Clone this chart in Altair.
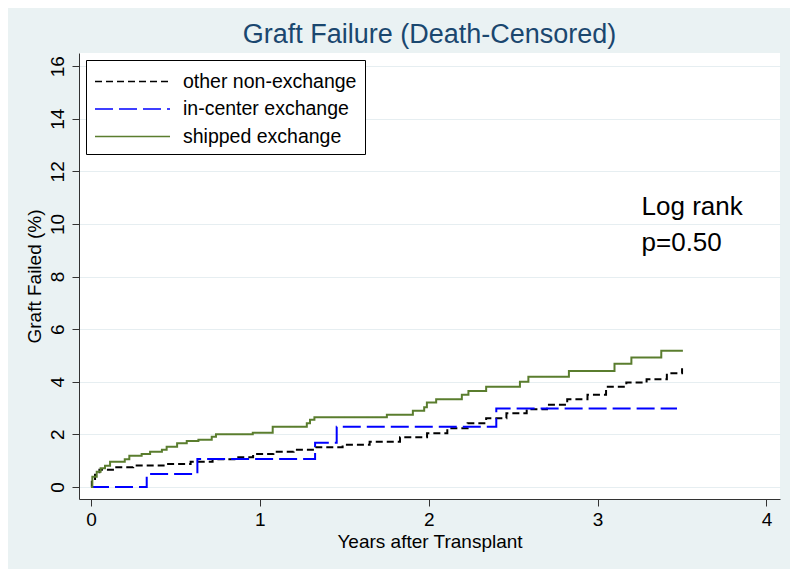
import altair as alt
import pandas as pd

# ---- data ----
series_names = ["other non-exchange", "in-center exchange", "shipped exchange"]

other_x = [0, 0.005, 0.024, 0.05, 0.13, 0.25, 0.43, 0.59, 0.72, 0.86, 0.96, 1.08, 1.20, 1.33, 1.49,
           1.65, 1.83, 1.99, 2.11, 2.23, 2.34, 2.46, 2.58, 2.70, 2.82, 2.94, 3.05, 3.17, 3.29, 3.41, 3.50]
other_y = [0, 0.30, 0.46, 0.65, 0.75, 0.81, 0.87, 0.96, 1.05, 1.13, 1.25, 1.34, 1.41, 1.51, 1.60,
           1.72, 1.89, 2.04, 2.23, 2.42, 2.61, 2.80, 2.95, 3.12, 3.33, 3.50, 3.81, 3.97, 4.09, 4.32, 4.51]

incenter_x = [0, 0.33, 0.63, 1.327, 1.455, 2.40, 3.47]
incenter_y = [0, 0.49, 1.06, 1.68, 2.29, 2.98, 2.98]

shipped_x = [0, 0.008, 0.034, 0.057, 0.083, 0.113, 0.20, 0.227, 0.30, 0.35, 0.42, 0.448, 0.51, 0.567,
             0.636, 0.715, 0.74, 0.958, 1.076, 1.278, 1.297, 1.323, 1.752, 1.906, 1.973, 1.989, 2.044,
             2.196, 2.235, 2.34, 2.54, 2.59, 2.83, 3.10, 3.20, 3.377, 3.505]
shipped_y = [0, 0.39, 0.58, 0.71, 0.80, 0.96, 1.05, 1.18, 1.25, 1.34, 1.41, 1.53, 1.66, 1.75,
             1.79, 1.91, 2.0, 2.06, 2.29, 2.42, 2.55, 2.65, 2.74, 2.90, 3.03, 3.21, 3.33,
             3.50, 3.65, 3.81, 4.00, 4.19, 4.41, 4.68, 4.92, 5.18, 5.18]

annot_x = [3.26, 3.26]
annot_y = [10.65, 9.28]
annot_text = ["Log rank", "p=0.50"]

x_ticks = [0, 1, 2, 3, 4]
y_ticks = [0, 2, 4, 6, 8, 10, 12, 14, 16]

# ---- build table ----
rows = []
for name, xs, ys in zip(series_names, [other_x, incenter_x, shipped_x], [other_y, incenter_y, shipped_y]):
    for i, (a, b) in enumerate(zip(xs, ys)):
        rows.append({"series": name, "t": a, "v": b, "i": i})
df = pd.DataFrame(rows)
ann = pd.DataFrame({"t": annot_x, "v": annot_y, "text": annot_text})

FONT = "Liberation Sans"

xscale = alt.Scale(domain=[-0.071, 4.08], nice=False, zero=False)
yscale = alt.Scale(domain=[-0.46, 16.5], nice=False, zero=False)

lines = alt.Chart(df).mark_line(interpolate="step-after", strokeWidth=2).encode(
    x=alt.X("t:Q", scale=xscale, title="Years after Transplant",
            axis=alt.Axis(values=x_ticks, format="d")),
    y=alt.Y("v:Q", scale=yscale, title="Graft Failed (%)",
            axis=alt.Axis(values=y_ticks, format="d")),
    color=alt.Color("series:N", title=None,
                    scale=alt.Scale(domain=series_names, range=["#000000", "#0000FF", "#5A7D2E"]),
                    legend=alt.Legend(orient="none", legendX=7, legendY=7,
                                      symbolType="M-1,0H5", symbolSize=625,
                                      symbolStrokeWidth=1.6, labelFontSize=19.5,
                                      labelFont=FONT, labelColor="black", labelOffset=62,
                                      padding=8, rowPadding=4.5, strokeColor="black",
                                      fillColor="white", labelLimit=400)),
    strokeDash=alt.StrokeDash("series:N", title=None,
                              scale=alt.Scale(domain=series_names, range=[[7, 4], [18, 6], [1, 0]])),
    order="i:Q",
)

texts = alt.Chart(ann).mark_text(align="left", baseline="middle", fontSize=26, font=FONT,
                                 color="black").encode(
    x=alt.X("t:Q", scale=xscale),
    y=alt.Y("v:Q", scale=yscale),
    text="text:N",
)

chart = alt.layer(lines, texts).properties(
    width=701, height=446,
    title=alt.Title("Graft Failure (Death-Censored)", fontSize=27, font=FONT, color="#1A476F",
                    fontWeight="normal", anchor="middle", offset=4),
    background="#EAF2F3",
    autosize=alt.AutoSizeParams(type="none"),
    padding={"left": 71, "top": 45, "right": 10, "bottom": 70},
).configure_view(
    fill="white", stroke=None
).configure_axisX(
    grid=False, domainColor="#333333", tickColor="#333333", tickSize=7, labelFontSize=19,
    titleFontSize=19, labelFont=FONT, titleFont=FONT, labelColor="black", titleColor="black",
    titleFontWeight="normal", labelPadding=4, titlePadding=3
).configure_axisY(
    grid=True, gridColor="#E6EEF1", gridWidth=1.2, domainColor="#333333", tickColor="#333333",
    tickSize=7, labelFontSize=19, titleFontSize=19, labelFont=FONT, titleFont=FONT,
    labelColor="black", titleColor="black", titleFontWeight="normal", labelAngle=270,
    labelAlign="center", labelBaseline="alphabetic", labelPadding=9, titlePadding=4
)

chart.save("out.html", embed_options={"renderer": "svg", "actions": False})
